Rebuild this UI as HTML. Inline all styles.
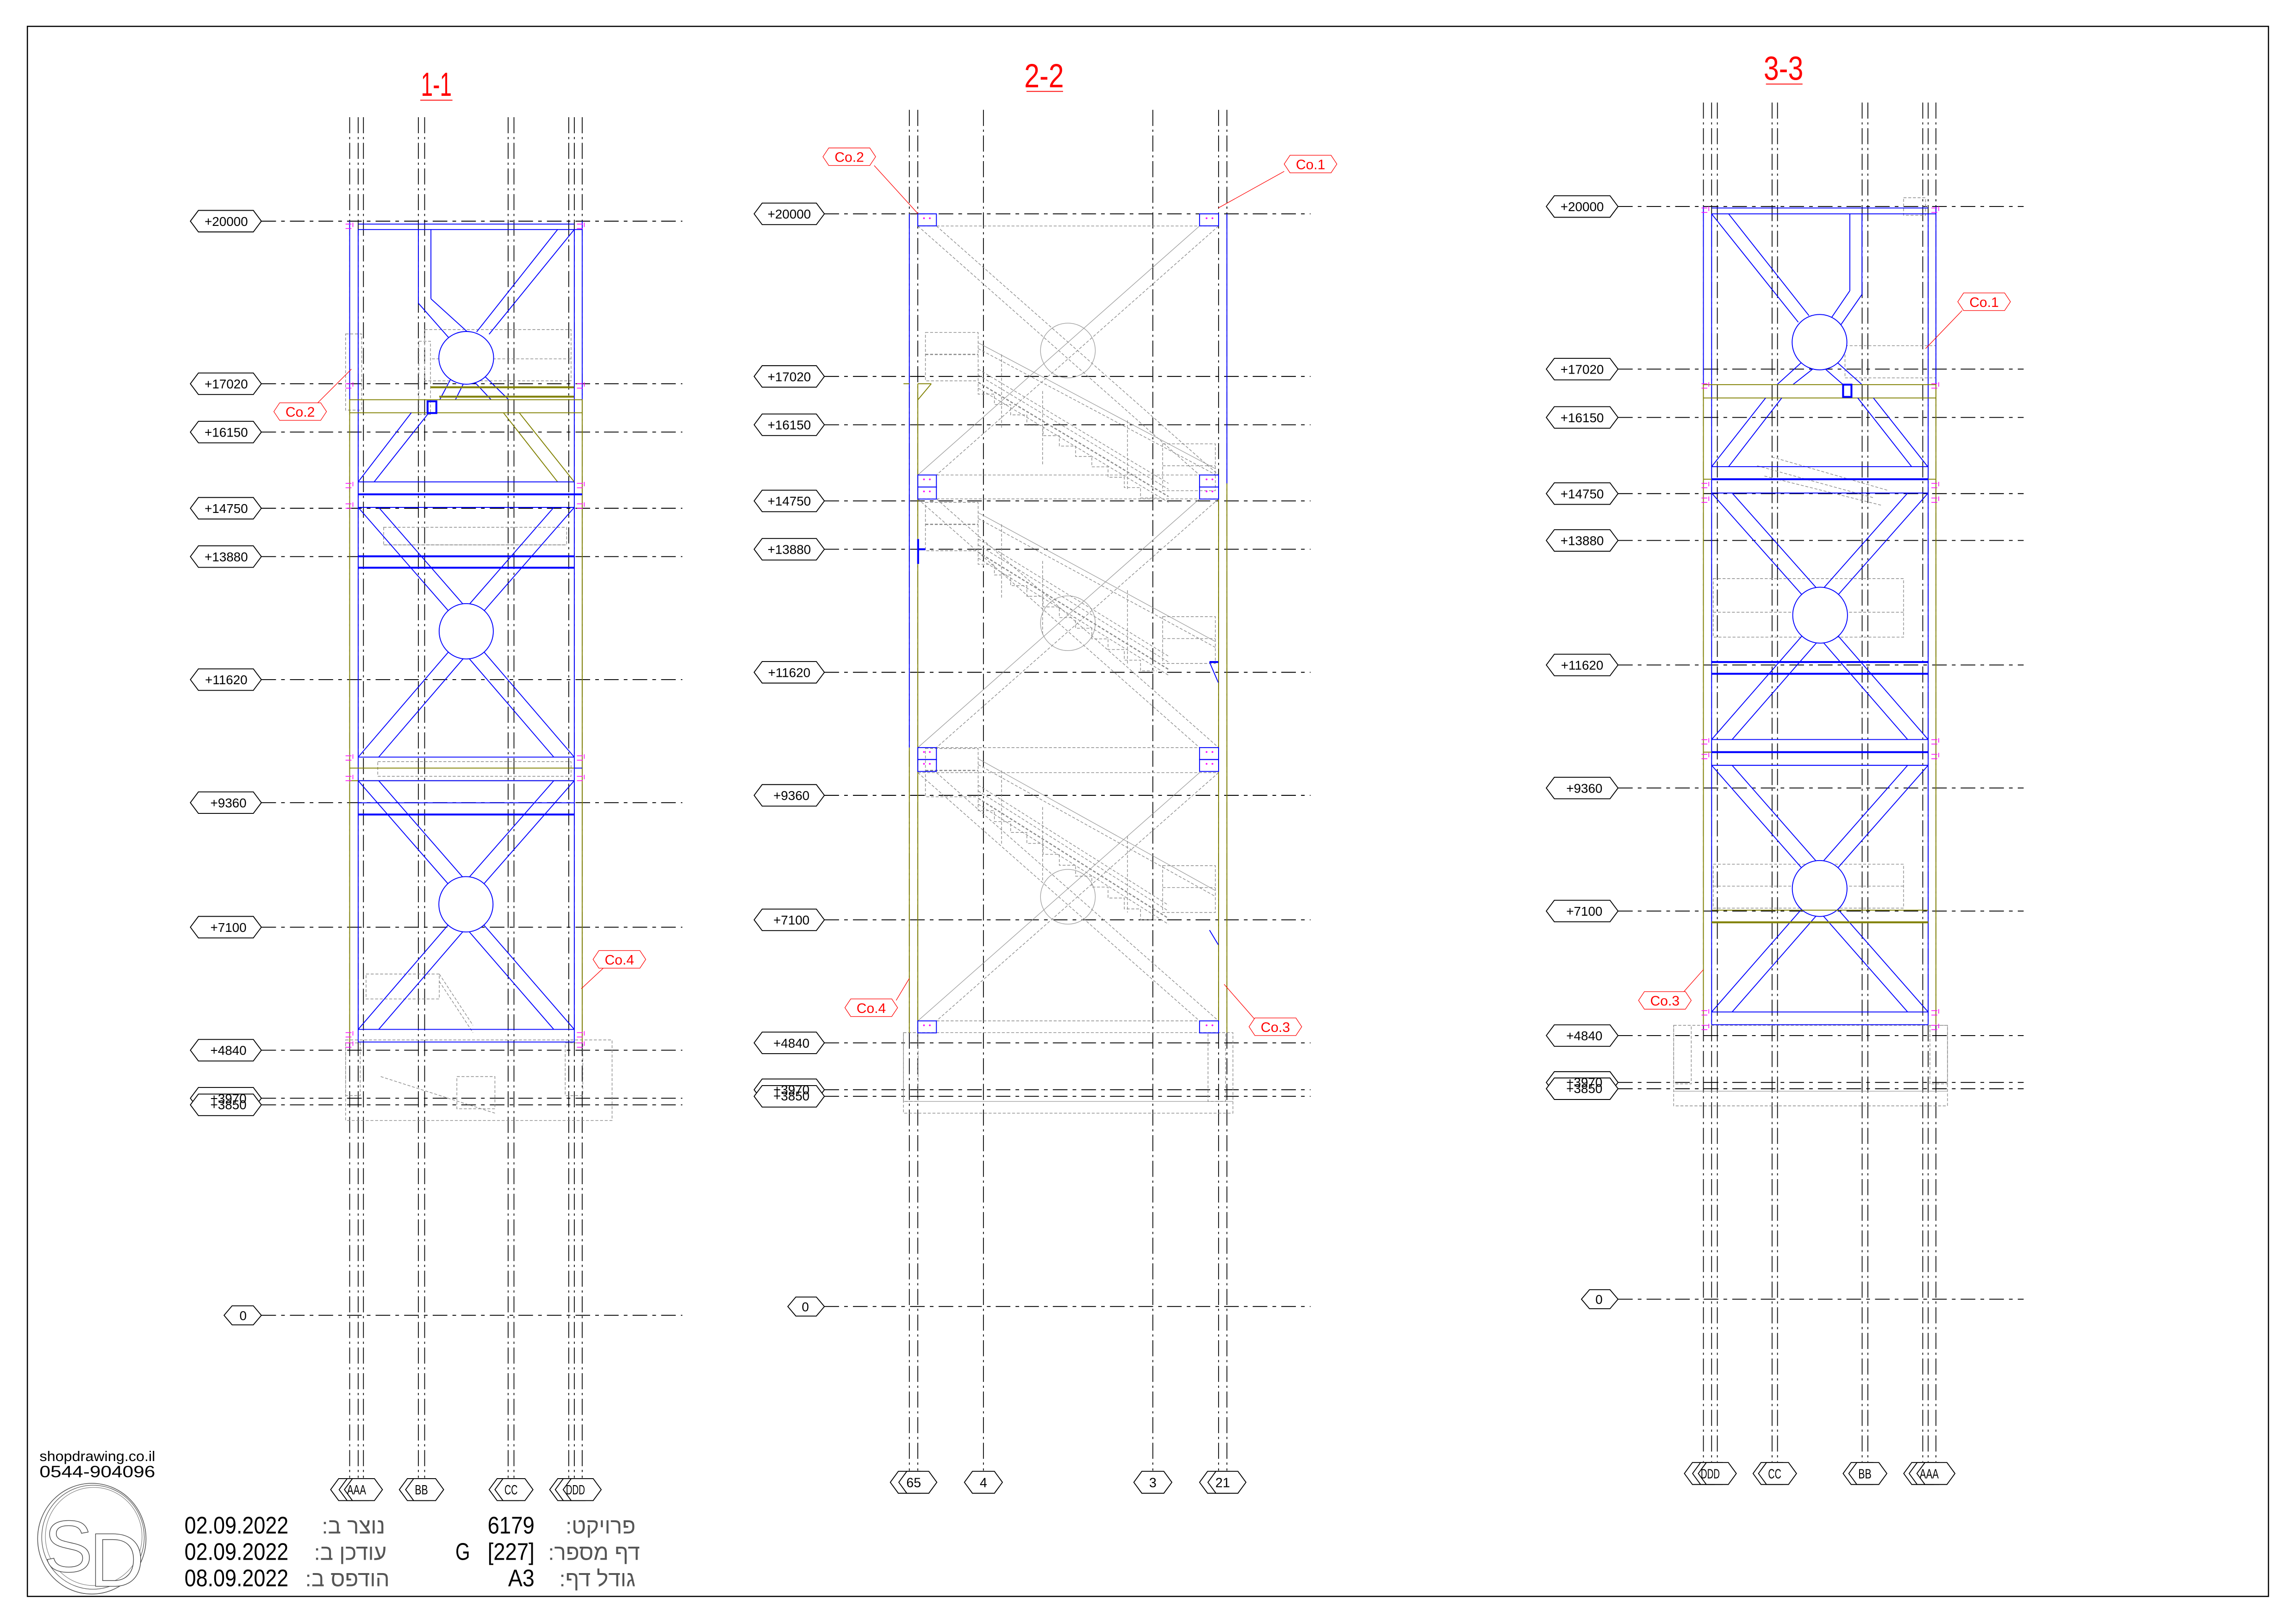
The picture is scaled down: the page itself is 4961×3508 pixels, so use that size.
<!DOCTYPE html>
<html><head><meta charset="utf-8">
<style>
html,body{margin:0;padding:0;background:#fff;}
svg{display:block}
.g{stroke:#000;stroke-width:.55;stroke-dasharray:11 2.5 1.5 2.5;fill:none}
.lv{stroke:#000;stroke-width:.6;stroke-dasharray:10 3.5 2.5 3.5;fill:none}
.b{stroke:#0000ff;stroke-width:.6;fill:none}
.bt{stroke:#0000ff;stroke-width:1.3;fill:none}
.y{stroke:#808000;stroke-width:.6;fill:none}
.yt{stroke:#808000;stroke-width:1.3;fill:none}
.d{stroke:#8a8a8a;stroke-width:.45;stroke-dasharray:2 1.2;fill:none}
.dt{stroke:#8a8a8a;stroke-width:.8;stroke-dasharray:2 1.2;fill:none}
.s{stroke:#999;stroke-width:.4;fill:none}
.r{stroke:#ff0000;stroke-width:.4;fill:#fff}
.rl{stroke:#ff0000;stroke-width:.4;fill:none}
.k{stroke:#000;stroke-width:.6;fill:#fff}
.c{stroke:#0000ff;stroke-width:.6;fill:#fff}
.m{stroke:#ff00ff;stroke-width:.5;fill:none}
text{font-family:"Liberation Sans",sans-serif}
.lt{font-size:8.8px;text-anchor:middle;fill:#000}
.bl{font-size:9px;text-anchor:middle;fill:#000}
.ct{font-size:9.5px;text-anchor:middle;fill:#ff0000}
.tt{font-size:23px;text-anchor:middle;fill:#ff0000}
.tb{font-size:16.5px;fill:#000}
.hb{font-size:15px;fill:#555;font-family:"Liberation Sans","Noto Sans CJK JP",sans-serif;text-anchor:end}
</style></head>
<body>
<svg width="4961" height="3508" viewBox="0 0 1568 1108.75" preserveAspectRatio="none" xmlns="http://www.w3.org/2000/svg">
<rect x="0" y="0" width="1568" height="1109" fill="#fff"/>
<rect x="18.7" y="18" width="1530.5" height="1071.9" fill="none" stroke="#000" stroke-width="0.8"/>
<g id="g"></g>
<g id="txt">
<text class="tt" x="298" y="65.5" textLength="21" lengthAdjust="spacingAndGlyphs">1-1</text>
<line x1="287" y1="68.4" x2="309" y2="68.4" stroke="#f00" stroke-width=".6"/>
<text class="tt" x="713" y="59.5" textLength="27" lengthAdjust="spacingAndGlyphs">2-2</text>
<line x1="701" y1="62.4" x2="726" y2="62.4" stroke="#f00" stroke-width=".6"/>
<text class="tt" x="1218" y="54.5" textLength="27" lengthAdjust="spacingAndGlyphs">3-3</text>
<line x1="1206" y1="57.4" x2="1231" y2="57.4" stroke="#f00" stroke-width=".6"/>

<text class="lt" x="154.5" y="154.2">+20000</text>
<text class="lt" x="154.5" y="265.2">+17020</text>
<text class="lt" x="154.5" y="298.2">+16150</text>
<text class="lt" x="154.5" y="350.2">+14750</text>
<text class="lt" x="154.5" y="383.2">+13880</text>
<text class="lt" x="154.5" y="467.2">+11620</text>
<text class="lt" x="156" y="551.2">+9360</text>
<text class="lt" x="156" y="636.2">+7100</text>
<text class="lt" x="156" y="720.2">+4840</text>
<text class="lt" x="156" y="753">+3970</text>
<text class="lt" x="156" y="757.3">+3850</text>
<text class="lt" x="166" y="901.2">0</text>
<text class="lt" x="539" y="149.2">+20000</text>
<text class="lt" x="539" y="260.2">+17020</text>
<text class="lt" x="539" y="293.2">+16150</text>
<text class="lt" x="539" y="345.2">+14750</text>
<text class="lt" x="539" y="378.2">+13880</text>
<text class="lt" x="539" y="462.2">+11620</text>
<text class="lt" x="540.5" y="546.2">+9360</text>
<text class="lt" x="540.5" y="631.2">+7100</text>
<text class="lt" x="540.5" y="715.2">+4840</text>
<text class="lt" x="540.5" y="747">+3970</text>
<text class="lt" x="540.5" y="751.3">+3850</text>
<text class="lt" x="550" y="895.2">0</text>
<text class="lt" x="1080.5" y="144.2">+20000</text>
<text class="lt" x="1080.5" y="255.2">+17020</text>
<text class="lt" x="1080.5" y="288.2">+16150</text>
<text class="lt" x="1080.5" y="340.2">+14750</text>
<text class="lt" x="1080.5" y="372.2">+13880</text>
<text class="lt" x="1080.5" y="457.2">+11620</text>
<text class="lt" x="1082" y="541.2">+9360</text>
<text class="lt" x="1082" y="625.2">+7100</text>
<text class="lt" x="1082" y="710.2">+4840</text>
<text class="lt" x="1082" y="742">+3970</text>
<text class="lt" x="1082" y="746.3">+3850</text>
<text class="lt" x="1092" y="890.2">0</text>

<text class="bl" x="243.5" y="1020.3" textLength="13" lengthAdjust="spacingAndGlyphs">AAA</text>
<text class="bl" x="287.8" y="1020.3" textLength="9" lengthAdjust="spacingAndGlyphs">BB</text>
<text class="bl" x="349" y="1020.3" textLength="9" lengthAdjust="spacingAndGlyphs">CC</text>
<text class="bl" x="393" y="1020.3" textLength="13" lengthAdjust="spacingAndGlyphs">DDD</text>
<text class="bl" x="624" y="1015.3">65</text>
<text class="bl" x="671.6" y="1015.3">4</text>
<text class="bl" x="787.3" y="1015.3">3</text>
<text class="bl" x="835" y="1015.3">21</text>
<text class="bl" x="1168" y="1009.3" textLength="13" lengthAdjust="spacingAndGlyphs">DDD</text>
<text class="bl" x="1212" y="1009.3" textLength="9" lengthAdjust="spacingAndGlyphs">CC</text>
<text class="bl" x="1273.6" y="1009.3" textLength="9" lengthAdjust="spacingAndGlyphs">BB</text>
<text class="bl" x="1317.5" y="1009.3" textLength="13" lengthAdjust="spacingAndGlyphs">AAA</text>

<text class="ct" x="205" y="284.5">Co.2</text>
<text class="ct" x="423" y="658.5">Co.4</text>
<text class="ct" x="580" y="110.5">Co.2</text>
<text class="ct" x="895" y="115.5">Co.1</text>
<text class="ct" x="595" y="691.5">Co.4</text>
<text class="ct" x="871" y="704.5">Co.3</text>
<text class="ct" x="1355" y="209.5">Co.1</text>
<text class="ct" x="1137" y="686.5">Co.3</text>

<text x="27" y="997.5" font-size="9.8" fill="#000" textLength="79" lengthAdjust="spacingAndGlyphs">shopdrawing.co.il</text>
<text x="27" y="1008.5" font-size="11" fill="#000" textLength="79" lengthAdjust="spacingAndGlyphs">0544-904096</text>
<ellipse cx="62.7" cy="1050.5" rx="37" ry="37.8" fill="none" stroke="#555" stroke-width=".5"/>
<ellipse cx="63.5" cy="1049.5" rx="35" ry="35.5" fill="none" stroke="#555" stroke-width=".4"/>
<ellipse cx="64" cy="1049" rx="33" ry="33.5" fill="none" stroke="#777" stroke-width=".35"/>
<text x="30" y="1073" font-size="50" font-family="Liberation Serif,serif" fill="#fff" stroke="#444" stroke-width=".45">S</text>
<text x="61" y="1083" font-size="52" font-family="Liberation Serif,serif" fill="#fff" stroke="#444" stroke-width=".45">D</text>

<text class="tb" x="126" y="1047" textLength="71" lengthAdjust="spacingAndGlyphs">02.09.2022</text>
<text class="tb" x="126" y="1065" textLength="71" lengthAdjust="spacingAndGlyphs">02.09.2022</text>
<text class="tb" x="126" y="1083" textLength="71" lengthAdjust="spacingAndGlyphs">08.09.2022</text>
<text class="hb" x="263" y="1047">&#x202D;:ב רצונ&#x202C;</text>
<text class="hb" x="264" y="1065">&#x202D;:ב ןכדוע&#x202C;</text>
<text class="hb" x="266" y="1083">&#x202D;:ב ספדוה&#x202C;</text>
<text class="tb" x="365" y="1047" text-anchor="end" textLength="32" lengthAdjust="spacingAndGlyphs">6179</text>
<text class="tb" x="311" y="1065" textLength="10" lengthAdjust="spacingAndGlyphs">G</text>
<text class="tb" x="365" y="1065" text-anchor="end" textLength="32" lengthAdjust="spacingAndGlyphs">[227]</text>
<text class="tb" x="365" y="1083" text-anchor="end" textLength="18" lengthAdjust="spacingAndGlyphs">A3</text>
<text class="hb" x="434" y="1047">&#x202D;:טקיורפ&#x202C;</text>
<text class="hb" x="437" y="1065">&#x202D;:רפסמ ףד&#x202C;</text>
<text class="hb" x="434" y="1083">&#x202D;:ףד לדוג&#x202C;</text>
</g>
</svg>
<script>
(function(){
var NS="http://www.w3.org/2000/svg",G=document.getElementById('g');
function el(t,a){var e=document.createElementNS(NS,t);for(var k in a)e.setAttribute(k,a[k]);G.appendChild(e);return e}
function L(x1,y1,x2,y2,c){el('line',{x1:x1,y1:y1,x2:x2,y2:y2,'class':c||'b'})}
function R(x,y,w,h,c){el('rect',{x:x,y:y,width:w,height:h,'class':c||'b'})}
function E(cx,cy,rx,ry,c){el('ellipse',{cx:cx,cy:cy,rx:rx,ry:ry,'class':c||'c'})}
function P(pts,c){el('polygon',{points:pts,'class':c})}
function H(x0,x1,y,h,c){var a=h/2,i=5.5;P([x0,y,x0+i,y-a,x1-i,y-a,x1,y,x1-i,y+a,x0+i,y+a].join(' '),c||'k')}
function Co(cx,cy,lx,ly,tx,ty){L(lx,ly,tx,ty,'rl');P([cx-18,cy,cx-14,cy-6,cx+14,cy-6,cx+18,cy,cx+14,cy+6,cx-14,cy+6].join(' '),'r')}
function X(xl,xr,yt,yb,cx,cy,r,w){
 L(xl,yt,cx,cy);L(xl+w,yt,cx+w,cy);L(xr,yt,cx,cy);L(xr-w,yt,cx-w,cy);
 L(xl,yb,cx,cy);L(xl+w,yb,cx+w,cy);L(xr,yb,cx,cy);L(xr-w,yb,cx-w,cy);
 E(cx,cy,r,r+0.4);L(xl,yt,xr,yt);L(xl,yb,xr,yb)}
function ticks(x,y){L(x-2,y,x+2,y,'m');L(x-2,y+3,x+2,y+3,'m');L(x+3,y-1,x+3,y+2,'m')}
function section(gx,gy0,gy1,levels,lx0,lx1,le,zero,zx0,bub,by){
 levels.forEach(function(y){L(lx1,y,le,y,'lv')});
 L(lx1,zero,le,zero,'lv');
 gx.forEach(function(x){L(x,gy0,x,gy1,'g')});
 levels.forEach(function(y){H(lx0,lx1,y,14.7)});
 H(zx0,lx1,zero,13);
 bub.forEach(function(x){H(x-13,x+13,by,15)});
}
section([238.8,244.6,248.2,285.7,290,347,351,388.4,392.2,397.6],80,1009,
 [151,262,295,347,380,464,548,633,717,749.8,754.3],130,178.5,466,898,153,
 [238.8,244.6,248.2,285.7,290,347,351,388.4,392.2,397.6],1017);
R(236,710,182,55,'d');R(236,712,10,36,'d');R(386,712,12,36,'d');
R(262,360,125,12,'d');R(258,520,132,10,'d');L(262,372,387,372,'d');
R(290,225,100,35,'d');L(295,245,390,245,'d');R(236,228,11,52,'d');R(286,233,8,50,'d');
R(250,665,50,17,'d');L(300,665,323,700,'d');L(300,670,323,705,'d');
R(312,735,26,22,'d');L(260,735,338,760,'d');
L(244.6,156.7,244.6,711.4);L(392.2,156.7,392.2,711.4);
L(238.8,151,238.8,272.9);L(397.6,151,397.6,272.9);
L(238.8,272.9,238.8,712,'y');L(397.6,281.8,397.6,712,'y');
L(244.6,156.7,397.6,156.7);L(244.6,153,392.2,153,'b');
L(285.7,156.7,285.7,207);L(294.3,156.7,294.3,204);
L(285.7,207,313,238);L(294.3,204,323,230);
L(380.8,156.7,325.5,226.6);L(392.2,156.7,334,228.2);
L(312.5,250,300.3,272.9);L(322.5,250,311,272.9);
L(314,250,335.4,272.9);L(324,250,347.4,272.9);
E(318.4,244.3,18.7,18);
L(294,264.4,392,264.4,'yt');L(300,270.8,392,270.8,'yt');
R(238.8,272.9,158.8,8.9,'y');
R(292,274,6,8,'bt');
L(280.9,281.8,244.6,329);L(292.9,281.8,255.5,329);
L(343.8,281.8,380.8,329,'y');L(354.6,281.8,392.2,329,'y');
L(244.6,329,392.2,329);L(244.6,337.5,397.6,337.5,'bt');L(244.6,346.4,392.2,346.4);
X(244.6,392.2,346.4,516.9,318.4,431,18.5,14);
L(244.6,379.8,392.2,379.8,'bt');L(244.6,387.6,392.2,387.6,'bt');
L(238.8,524.4,392.2,524.4,'y');L(238.8,533,392.2,533,'y');L(392.2,524.4,397.6,524.4,'b');
X(244.6,392.2,533,702.8,318.2,617.4,18.5,14);
L(244.6,548.1,392.2,548.1,'b');L(244.6,556.1,392.2,556.1,'bt');
L(244.6,711.4,392.2,711.4);
[153,262,330,344,516,530,705,712].forEach(function(y){ticks(238,y);ticks(396,y)});
Co(205,281,217,275,240,252);Co(423,655,412,661,397,675);
section([621,626.8,671.6,787.3,832.2,837.9],75,1004,
 [146,257,290,342,375,459,543,628,712,744,748.5],515,563,895,892,538,
 [621,626.8,671.6,787.3,832.2,837.9],1012);
R(617,705,225,55,'d');L(617,752,842,752,'s');R(617,705,10,47,'d');R(825,705,12,47,'d');
var bays=[[154.3,324.3],[340.6,510.4],[527.5,697]];
bays.forEach(function(b){var yt=b[0],yb=b[1],cy=(yt+yb)/2;
 L(626.8,yt,819.2,yb,'d');L(639.5,yt,832.2,yb,'d');
 L(819.2,yt,626.8,yb,'s');L(832.2,yt,639.5,yb,'d');
 L(626.8,yt,832.2,yt,'d');L(626.8,yb,832.2,yb,'d');
 el('circle',{cx:729.3,cy:cy,r:18.7,'class':'s'});});
var fl=[[262,340],[378,458],[546,628]];
fl.forEach(function(f){var y0=f[0],y1=f[1],x0=668,x1=790;
 [-10,-6,-1,3].forEach(function(o,i){L(x0,y0+o,x1+8,y1+o,i==2?'dt':'d')});
 L(x0,y0-28,x1+40,y1-20,'s');L(x0,y0-24,x1+40,y1-16,'d');
 var p='M'+x0+' '+y0,n=11,dx=(x1-x0)/n,dy=(y1-y0)/n;
 for(var i=0;i<n;i++){p+=' v'+dy+' h'+dx}
 el('path',{d:p,'class':'d'});
 R(632,y0-35,36,33,'d');L(632,y0-20,668,y0-20,'dt');
 R(794,y1-37,36,32,'d');L(794,y1-22,830,y1-22,'d');
 L(684,y0-20,684,y0+30,'d');L(712,y0+5,712,y0+55,'d');L(770,y0+25,770,y1-5,'d');
});
L(621,146,621,510.4);L(621,510.4,621,705,'y');L(626.8,262,626.8,705,'y');L(617,262,621,262,'y');
L(837.9,146,837.9,330);L(837.9,330,837.9,705,'y');L(832.2,330,832.2,705,'y');
[146,324.3,332.5,510.4,518.5,697].forEach(function(y){R(626.8,y,12.7,8.2);R(819.2,y,13,8.2);
 el('circle',{cx:631,cy:y+3,r:.6,fill:'#f0f'});el('circle',{cx:635,cy:y+3,r:.6,fill:'#f0f'});
 el('circle',{cx:824,cy:y+3,r:.6,fill:'#f0f'});el('circle',{cx:828,cy:y+3,r:.6,fill:'#f0f'});});
L(627,375,632,375,'bt');L(627,368,627,385,'bt');L(826,452,832,466);L(826,635,832,645);
L(826,452,832,452,'bt');L(626.8,262,636,262,'y');L(626.8,273,636,262,'y');
Co(580,107,597,113,627,146);Co(895,112,877,117,832,142);Co(595,688,612,683,621,668);Co(871,701,857,696,836,672);
section([1163.3,1168.9,1172.8,1210.2,1213.9,1271.7,1275.6,1313.1,1316.8,1322.1],70,998,
 [141,252,285,337,369,454,538,622,707,739,743.3],1056,1105,1382,887,1080,
 [1163.3,1168.9,1172.8,1210.2,1213.9,1271.7,1275.6,1313.1,1316.8,1322.1],1006);
R(1143,700,187,55,'d');L(1143,745,1330,745,'s');R(1143,700,12,40,'d');R(1318,700,12,40,'d');
R(1170,395,130,40,'d');L(1170,418,1300,418,'d');R(1170,590,130,30,'d');L(1170,605,1300,605,'d');
L(1200,318,1280,340,'d');L(1210,312,1290,335,'d');L(1205,325,1285,345,'d');
R(1260,236,62,22,'d');R(1300,135,15,12,'d');
L(1168.9,146,1168.9,699.6);L(1316.8,146,1316.8,699.6);
L(1163.3,141,1163.3,262.6);L(1322.1,141,1322.1,262.6);
L(1163.3,262.6,1163.3,699.6,'y');L(1322.1,262.6,1322.1,699.6,'y');
L(1168.9,146,1322.1,146);L(1168.9,142,1316.8,142);
L(1168.9,146,1228.1,220);L(1180.5,146,1235.4,215.5);
L(1263.3,146,1263.3,198.5);L(1271.6,146,1271.6,201);
L(1263.3,198.5,1250,218);L(1271.6,201,1257,222);
L(1233,245,1213.6,262.6);L(1243,248,1224.4,262.6);L(1242,248,1258.7,262.6);L(1252,245,1271.6,262.6);
E(1242.6,233.6,18.7,18.9);
R(1163.3,262.6,158.8,9.1,'y');R(1258.7,262.6,5.7,8.4,'bt');
L(1205.8,271.7,1168.9,318.6);L(1216.8,271.7,1180.5,318.6);
L(1268.7,271.7,1305.5,318.6);L(1279.4,271.7,1316.5,318.6);
L(1168.9,318.6,1316.8,318.6);L(1163.3,327.2,1322.1,327.2,'y');L(1168.9,327.2,1316.8,327.2,'bt');L(1168.9,336.6,1316.8,336.6);
X(1168.9,1316.8,336.6,504.9,1243,420,18.7,14);
L(1168.9,452,1316.8,452,'bt');L(1168.9,460,1316.8,460,'bt');
L(1168.9,513.5,1316.8,513.5,'bt');L(1163.3,513.5,1168.9,513.5,'y');L(1168.9,522.5,1316.8,522.5);
X(1168.9,1316.8,522.5,690.9,1242.7,606.6,18.7,14);
L(1168.9,621.4,1316.8,621.4,'y');L(1168.9,629.7,1316.8,629.7,'yt');
L(1168.9,699.6,1316.8,699.6);
[142,262,330,340,505,515,690,700].forEach(function(y){ticks(1164,y);ticks(1321,y)});
Co(1355,206,1340,212,1315,238);Co(1137,683,1150,677,1163.3,662);
})();
</script>
</body></html>
